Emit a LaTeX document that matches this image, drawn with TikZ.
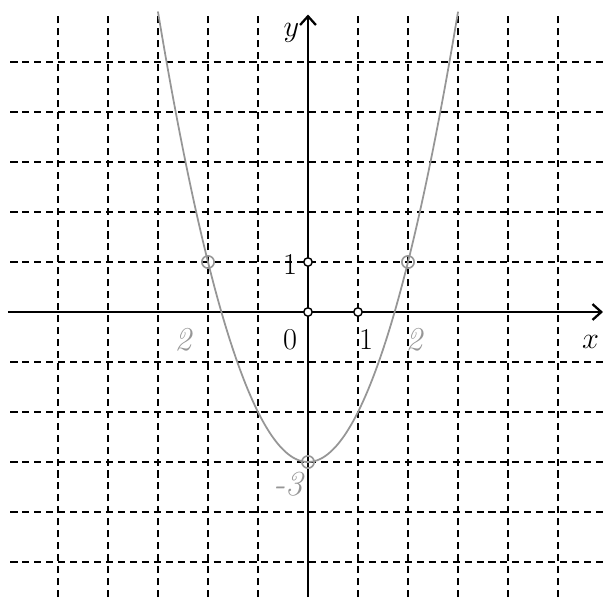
\documentclass[tikz,border=0pt]{standalone}
\usepackage{amsmath}
\usepackage{tikz}
\usetikzlibrary{calc,arrows.meta}
\definecolor{pencil}{RGB}{150,150,150}

\begin{document}
\begin{tikzpicture}[x=1cm, y=1cm, font=\fontsize{16}{19}\selectfont]
  \useasboundingbox (-6.16,-5.7) rectangle (5.9,6.24);
  % Points
  \coordinate (O) at (0,0);
  \coordinate (E) at (1,0);
  \coordinate (U) at (0,1);
  \coordinate (A) at (-2,1);
  \coordinate (B) at (2,1);
  \coordinate (V) at (0,-3);
  % Grid
  \foreach \k in {-5,...,-1,1,2,...,5} {
    \draw[dash pattern=on 4pt off 2.8pt, line width=0.8pt] (\k,-5.7) -- (\k,5.95);
    \draw[dash pattern=on 4pt off 2.8pt, line width=0.8pt] (-5.95,\k) -- (5.9,\k);
  }
  % Axes
  \draw[line width=1.3pt, -{Straight Barb[length=5pt,width=9pt]}] (-6.0,0) -- (5.9,0);
  \draw[line width=1.3pt, -{Straight Barb[length=5pt,width=9pt]}] (0,-5.7) -- (0,5.95);
  \node (xl) at (5.65,-0.6) {$x$};
  \node (yl) at (-0.33,5.58) {$y$};
  % Parabola y = x^2 - 3
  \draw[pencil, line width=1pt, line cap=round] plot[domain=-3:3, samples=80, smooth] (\x,{\x*\x-3});
  % Point markers
  \foreach \pt in {A,B,V}
    \draw[pencil, line width=0.9pt] (\pt) circle (3.5pt);
  \foreach \pt in {U,O,E}
    \draw[line width=0.8pt, fill=white] (\pt) circle (2.4pt);
  % Labels
  \node (lu) at (-0.36,0.95) {$1$};
  \node (lo) at (-0.36,-0.55) {$0$};
  \node (le) at (1.16,-0.55) {$1$};
  \node[pencil, font=\fontsize{19}{22}\selectfont] (la) at (-2.5,-0.55) {\itshape 2};
  \node[pencil, font=\fontsize{19}{22}\selectfont] (lb) at (2.12,-0.55) {\itshape 2};
  \node[pencil, font=\fontsize{20}{24}\selectfont] (lv) at (-0.4,-3.45) {\itshape -3};
\end{tikzpicture}
\end{document}
